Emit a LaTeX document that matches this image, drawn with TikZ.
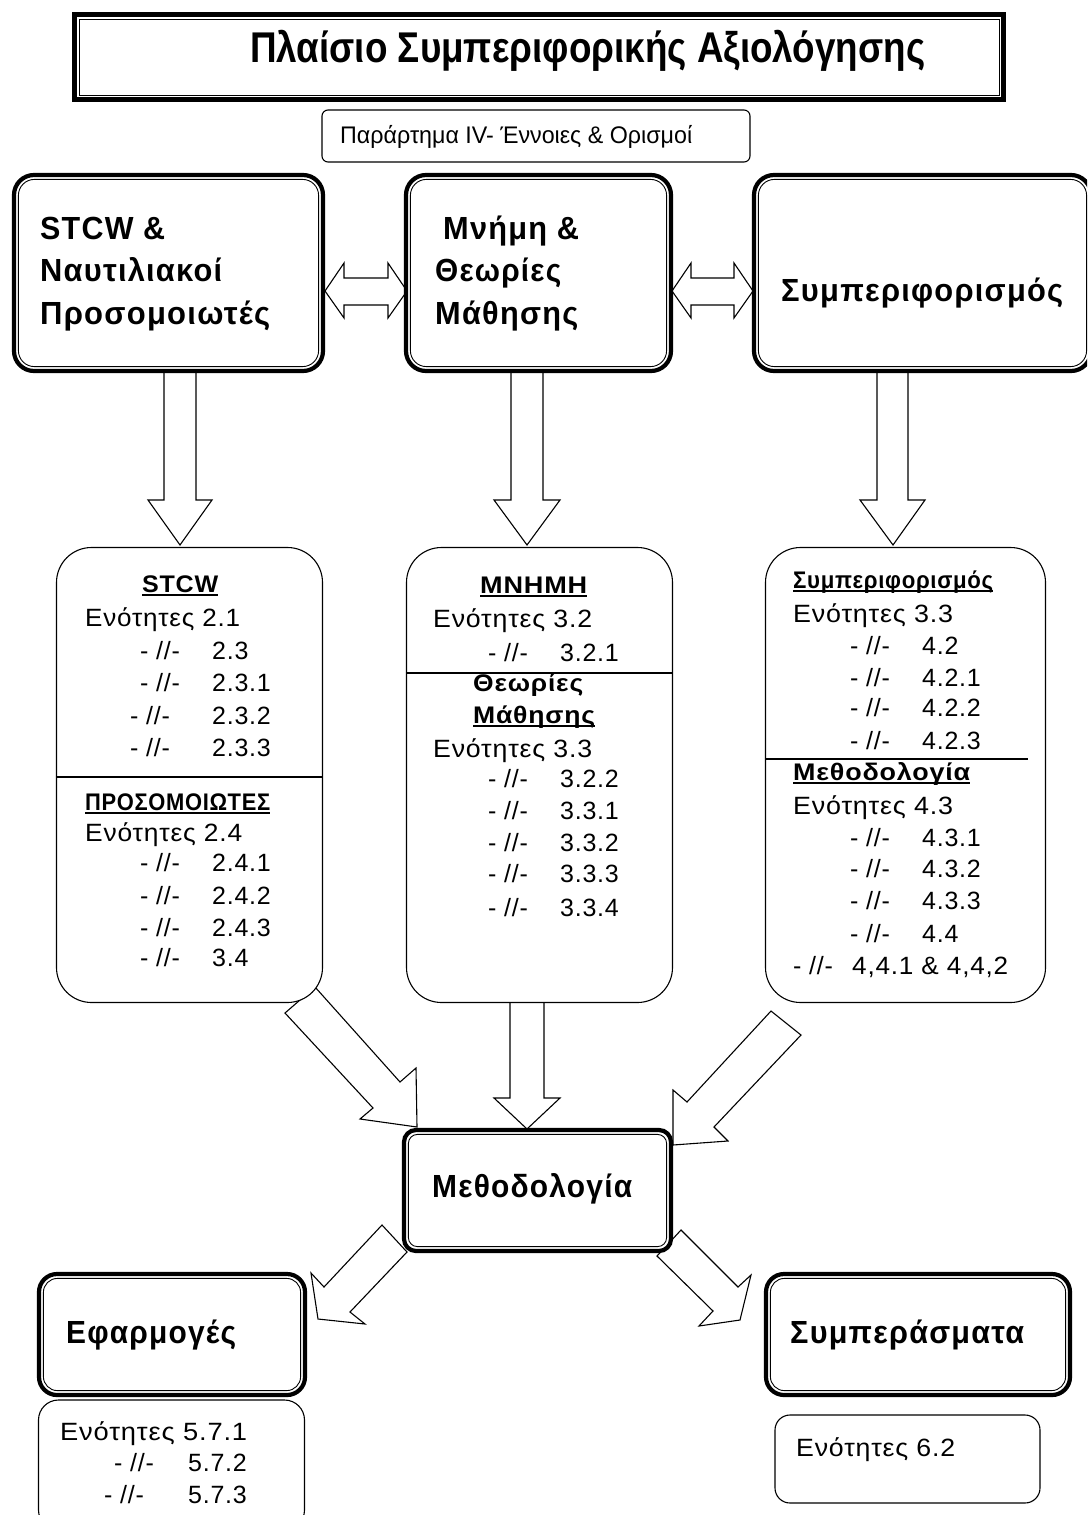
\documentclass[tikz,border=0pt]{standalone}
\usepackage{fontspec}
\usepackage{graphicx}
\setmainfont{Liberation Sans}
\newfontfamily\lsp[LetterSpace=3]{Liberation Sans}
\newfontfamily\hsp[LetterSpace=4]{Liberation Sans}
\newcommand{\fitw}[2]{\resizebox{#1}{\height}{#2}}
\newcommand{\ulbox}[1]{\setbox0\hbox{#1}\rlap{\rule[-4pt]{\wd0}{2pt}}\box0}
\newcommand{\lf}{\lsp\fontsize{25}{30}\selectfont}
\newcommand{\inl}[2]{\draw[line width=0.9pt, rounded corners=#2] ([shift={(4.4,-4.4)}]#1.south west) rectangle ([shift={(-4.4,4.4)}]#1.north east);}
\begin{document}
\begin{tikzpicture}[x=1pt,y=-1pt,
  bigbox/.style={draw, fill=white, line width=4.2pt, rounded corners=#1, inner sep=0pt, outer sep=0pt},
  bigbox/.default=20pt,
  thinbox/.style={draw, fill=white, line width=1.1pt, rounded corners=#1, inner sep=0pt},
  thinbox/.default=35pt,
  blockarrow/.style={draw, fill=white, line width=1.1pt, line join=miter},
  lt/.style={anchor=base west, inner sep=0pt, font=\lf},
  ht/.style={anchor=base west, inner sep=0pt, font=\hsp\bfseries\fontsize{32}{32}\selectfont},
  hd/.style={anchor=base west, inner sep=0pt, font=\lsp\bfseries\fontsize{24}{24}\selectfont}
]
\useasboundingbox (0,0) rectangle (1087,1515);
\fill[white] (0,0) rectangle (1087,1515);
\clip (0,0) rectangle (1087,1515);

% ---------- title ----------
\node[draw, line width=5pt, minimum width=929pt, minimum height=85pt, inner sep=0pt] (titlebox) at (539,57) {};
\draw[line width=1pt] (79,19) rectangle (999,95);
\node[anchor=base west, inner sep=0pt, font=\bfseries\fontsize{43}{43}\selectfont] (title) at (250,62)
  {\fitw{675pt}{Πλαίσιο Συμπεριφορικής Αξιολόγησης}};

\node[thinbox=6pt, minimum width=428pt, minimum height=52pt] (annex) at (536,136) {};
\node[anchor=base west, inner sep=0pt, font=\fontsize{24}{24}\selectfont] (annextxt) at (340,143)
  {\fitw{352pt}{Παράρτημα IV- Έννοιες \& Ορισμοί}};

% ---------- block arrows ----------
\draw[blockarrow] (325,291) -- (344,263) -- (344,278) -- (388,278) -- (388,263) -- (407,291)
  -- (388,318) -- (388,305) -- (344,305) -- (344,318) -- cycle;
\draw[blockarrow] (672,291) -- (691,263) -- (691,278) -- (734,278) -- (734,263) -- (753,291)
  -- (734,318) -- (734,305) -- (691,305) -- (691,318) -- cycle;

\draw[blockarrow] (164,365) -- (196,365) -- (196,500) -- (212,500) -- (180,545) -- (148,500) -- (164,500) -- cycle;
\draw[blockarrow] (511,365) -- (543,365) -- (543,500) -- (560,500) -- (527,545) -- (494,500) -- (511,500) -- cycle;
\draw[blockarrow] (877,365) -- (908,365) -- (908,500) -- (925,500) -- (893,545) -- (860,500) -- (877,500) -- cycle;

\draw[blockarrow] (510,995) -- (544,995) -- (544,1098) -- (560,1098) -- (527,1129) -- (494,1098) -- (510,1098) -- cycle;

\draw[blockarrow] (285,1013) -- (315,987) -- (400,1082) -- (416,1068) -- (417,1127) -- (360,1119) -- (373,1108) -- cycle;
\draw[blockarrow] (771,1011) -- (801,1035) -- (714,1127) -- (728,1141) -- (673,1145) -- (673,1090) -- (687,1102) -- cycle;
\draw[blockarrow] (382,1225) -- (407,1252) -- (350,1312) -- (365,1324) -- (318,1319) -- (311,1273) -- (324,1287) -- cycle;
\draw[blockarrow] (681,1230) -- (657,1256) -- (713,1311) -- (699,1326) -- (740,1320) -- (751,1275) -- (738,1287) -- cycle;

% ---------- top boxes ----------
\node[bigbox, minimum width=309pt, minimum height=196pt] (stcwbox) at (168.5,273) {};
\node[bigbox, minimum width=265pt, minimum height=196pt] (membox) at (538.5,273) {};
\node[bigbox, minimum width=337pt, minimum height=196pt] (behbox) at (922.5,273) {};
\inl{stcwbox}{16pt} \inl{membox}{16pt} \inl{behbox}{16pt}

\node[ht] (t1a) at (40,239) {\fitw{125pt}{STCW \&}};
\node[ht] (t1b) at (40,281) {\fitw{182pt}{Ναυτιλιακοί}};
\node[ht] (t1c) at (40,324) {\fitw{230pt}{Προσομοιωτές}};
\node[ht] (t2a) at (443,239) {\fitw{136pt}{Μνήμη \&}};
\node[ht] (t2b) at (435,281) {\fitw{126pt}{Θεωρίες}};
\node[ht] (t2c) at (435,324) {\fitw{143pt}{Μάθησης}};
\node[ht] (t3a) at (781,301) {\fitw{282pt}{Συμπεριφορισμός}};

% ---------- middle boxes ----------
\node[thinbox, minimum width=266pt, minimum height=455pt] (boxa) at (189.5,775) {};
\node[thinbox, minimum width=266pt, minimum height=455pt] (boxb) at (539.5,775) {};
\node[thinbox, minimum width=280pt, minimum height=455pt] (boxc) at (905.5,775) {};
\draw[line width=1.1pt] (boxa.west |- 0,777) -- (boxa.east |- 0,777);
\draw[line width=1.1pt] (boxb.west |- 0,673) -- (boxb.east |- 0,673);
\draw[line width=1.1pt] (boxc.west |- 0,759) -- (1028,759);

% box A
\node[hd] (ah1) at (142,592) {\fitw{76pt}{\ulbox{STCW}}};
\node[lt] (a0) at (85,626) {\fitw{155pt}{Ενότητες 2.1}};
\node[lt] (a1d) at (140,659) {- //-}; \node[lt] (a1n) at (212,659) {2.3};
\node[lt] (a2d) at (140,691) {- //-}; \node[lt] (a2n) at (212,691) {2.3.1};
\node[lt] (a3d) at (130,724) {- //-}; \node[lt] (a3n) at (212,724) {2.3.2};
\node[lt] (a4d) at (130,756) {- //-}; \node[lt] (a4n) at (212,756) {2.3.3};
\node[hd] (ah2) at (85,810) {\fitw{185pt}{\ulbox{ΠΡΟΣΟΜΟΙΩΤΕΣ}}};
\node[lt] (a5) at (85,841) {\fitw{157pt}{Ενότητες 2.4}};
\node[lt] (a6d) at (140,871) {- //-}; \node[lt] (a6n) at (212,871) {2.4.1};
\node[lt] (a7d) at (140,904) {- //-}; \node[lt] (a7n) at (212,904) {2.4.2};
\node[lt] (a8d) at (140,936) {- //-}; \node[lt] (a8n) at (212,936) {2.4.3};
\node[lt] (a9d) at (140,966) {- //-}; \node[lt] (a9n) at (212,966) {3.4};

% box B
\node[hd] (bh1) at (480,593) {\fitw{107pt}{\ulbox{ΜΝΗΜΗ}}};
\node[lt] (b0) at (433,627) {\fitw{159pt}{Ενότητες 3.2}};
\node[lt] (b1d) at (488,661) {- //-}; \node[lt] (b1n) at (560,661) {3.2.1};
\node[hd] (bh2) at (473,691) {\fitw{110pt}{Θεωρίες}};
\node[hd] (bh3) at (473,723) {\fitw{122pt}{\ulbox{Μάθησης}}};
\node[lt] (b2) at (433,757) {\fitw{159pt}{Ενότητες 3.3}};
\node[lt] (b3d) at (488,787) {- //-}; \node[lt] (b3n) at (560,787) {3.2.2};
\node[lt] (b4d) at (488,819) {- //-}; \node[lt] (b4n) at (560,819) {3.3.1};
\node[lt] (b5d) at (488,851) {- //-}; \node[lt] (b5n) at (560,851) {3.3.2};
\node[lt] (b6d) at (488,882) {- //-}; \node[lt] (b6n) at (560,882) {3.3.3};
\node[lt] (b7d) at (488,916) {- //-}; \node[lt] (b7n) at (560,916) {3.3.4};

% box C
\node[hd] (ch1) at (793,588) {\fitw{200pt}{\ulbox{Συμπεριφορισμός}}};
\node[lt] (c0) at (793,622) {\fitw{160pt}{Ενότητες 3.3}};
\node[lt] (c1d) at (850,654) {- //-}; \node[lt] (c1n) at (922,654) {4.2};
\node[lt] (c2d) at (850,686) {- //-}; \node[lt] (c2n) at (922,686) {4.2.1};
\node[lt] (c3d) at (850,716) {- //-}; \node[lt] (c3n) at (922,716) {4.2.2};
\node[lt] (c4d) at (850,749) {- //-}; \node[lt] (c4n) at (922,749) {4.2.3};
\node[hd] (ch2) at (793,780) {\fitw{177pt}{\ulbox{Μεθοδολογία}}};
\node[lt] (c5) at (793,814) {\fitw{160pt}{Ενότητες 4.3}};
\node[lt] (c6d) at (850,846) {- //-}; \node[lt] (c6n) at (922,846) {4.3.1};
\node[lt] (c7d) at (850,877) {- //-}; \node[lt] (c7n) at (922,877) {4.3.2};
\node[lt] (c8d) at (850,909) {- //-}; \node[lt] (c8n) at (922,909) {4.3.3};
\node[lt] (c9d) at (850,942) {- //-}; \node[lt] (c9n) at (922,942) {4.4};
\node[lt] (c10d) at (793,974) {- //-}; \node[lt] (c10n) at (852,974) {\fitw{156pt}{4,4.1 \& 4,4,2}};

% ---------- methodology ----------
\node[bigbox=12pt, minimum width=267pt, minimum height=121pt] (methbox) at (537.5,1190.5) {};
\inl{methbox}{9pt}
\node[ht] (methtxt) at (432,1197) {\fitw{200pt}{Μεθοδολογία}};

% ---------- bottom ----------
\node[thinbox=20pt, minimum width=266pt, minimum height=130pt] (applist) at (171.5,1465) {};
\node[bigbox=18pt, minimum width=266pt, minimum height=121pt] (appbox) at (172,1334.5) {};
\inl{appbox}{14pt}
\node[ht] (apptxt) at (66,1343) {\fitw{170pt}{Εφαρμογές}};
\node[lt] (d0) at (60,1440) {\fitw{187pt}{Ενότητες 5.7.1}};
\node[lt] (d1d) at (114,1471) {- //-}; \node[lt] (d1n) at (188,1471) {5.7.2};
\node[lt] (d2d) at (104,1503) {- //-}; \node[lt] (d2n) at (188,1503) {5.7.3};

\node[thinbox=15pt, minimum width=265pt, minimum height=88pt] (conclist) at (907.5,1459) {};
\node[bigbox=18pt, minimum width=304pt, minimum height=121pt] (concbox) at (918,1334.5) {};
\inl{concbox}{14pt}
\node[ht] (conctxt) at (790,1343) {\fitw{234pt}{Συμπεράσματα}};
\node[lt] (e0) at (796,1456) {\fitw{159pt}{Ενότητες 6.2}};
\end{tikzpicture}
\end{document}
